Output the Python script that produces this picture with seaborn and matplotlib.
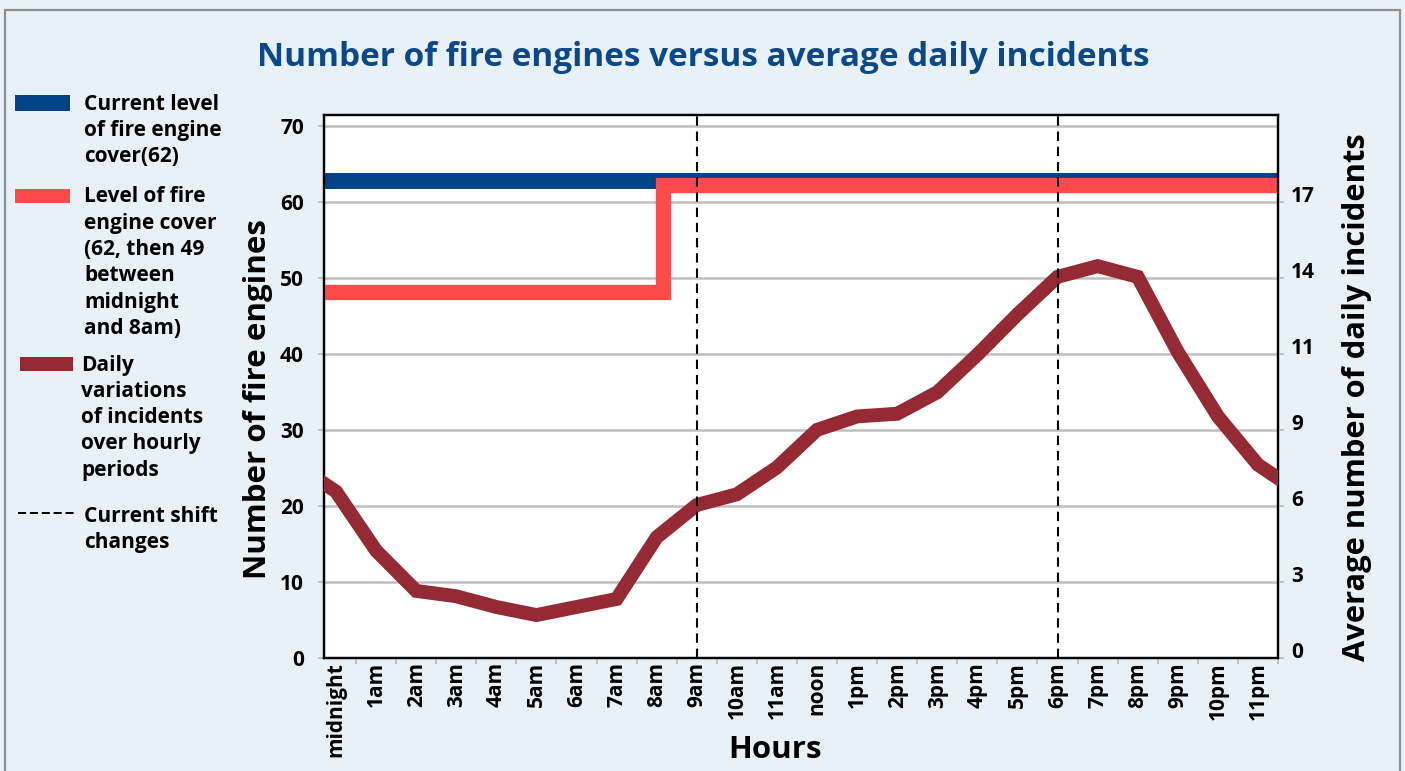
import numpy as np
import pandas as pd
import matplotlib
matplotlib.use("Agg")
import matplotlib.pyplot as plt
import seaborn as sns
from matplotlib.patches import Rectangle
from matplotlib.lines import Line2D

# ---------------- data ----------------
hour_labels = ["midnight", "1am", "2am", "3am", "4am", "5am", "6am", "7am",
               "8am", "9am", "10am", "11am", "noon", "1pm", "2pm", "3pm",
               "4pm", "5pm", "6pm", "7pm", "8pm", "9pm", "10pm", "11pm"]
# average number of daily incidents per hourly period (right axis units)
incidents = [6.2, 4.0, 2.5, 2.3, 1.9, 1.6, 1.9, 2.2, 4.5, 5.7, 6.1, 7.1,
             8.5, 9.0, 9.1, 9.9, 11.3, 12.8, 14.2, 14.6, 14.2, 11.4, 9.0, 7.2]
current_cover = 62.7                 # current level of fire engine cover
reduced_cover = [48.1, 62.2]         # level before / after the change
cover_change_hour = 8.15             # 8am
shift_change_hours = [9, 18]         # 9am and 6pm
left_ticks = [0, 10, 20, 30, 40, 50, 60, 70]
right_tick_labels = ["0", "3", "6", "9", "11", "14", "17"]
incidents_per_engine = 17 / 60       # right axis scale relative to left axis

# ---------------- style ----------------
BG = "#e8f1f8"
BLUE = "#004387"
RED = "#ff4a4a"
MAROON = "#952a34"
TITLE = "#0b4889"
GRID = "#bfbfbf"

sns.set_theme(style="white")
plt.rcParams["font.family"] = ["Open Sans", "DejaVu Sans"]
plt.rcParams["font.weight"] = "bold"

W, H = 1405, 771
fig = plt.figure(figsize=(W / 100, H / 100), dpi=100, facecolor=BG)


def fx(px):
    return px / W


def fy(py):
    return 1 - py / H


# outer gray border
fig.patches.append(Rectangle((fx(5), -0.02), fx(1400) - fx(5), fy(10) + 0.02,
                             transform=fig.transFigure, fill=False,
                             edgecolor="#8f8f8f", lw=1.6))

ax = fig.add_axes([fx(324), fy(658), fx(1278) - fx(324), fy(115) - fy(658)])
ax.set_facecolor("white")
XL, XR = -0.3, 23.5
YTOP = 71.4
ax.set_xlim(XL, XR)
ax.set_ylim(0, YTOP)

# horizontal grid
ax.set_yticks(left_ticks)
ax.yaxis.grid(True, color=GRID, lw=1.8)
ax.xaxis.grid(False)
ax.set_axisbelow(True)

# fire engine cover lines
cov_df = pd.DataFrame({"x": [XL, XR], "y": [current_cover, current_cover]})
sns.lineplot(data=cov_df, x="x", y="y", ax=ax, color=BLUE, lw=11.5,
             solid_capstyle="butt", zorder=3)
red_df = pd.DataFrame({"x": [XL, cover_change_hour, XR],
                       "y": [reduced_cover[0], reduced_cover[1], reduced_cover[1]]})
sns.lineplot(data=red_df, x="x", y="y", ax=ax, color=RED, lw=11.0,
             drawstyle="steps-post", solid_capstyle="butt",
             solid_joinstyle="miter", zorder=4)

# incidents on right axis
ax2 = ax.twinx()
ax2.set_ylim(0, YTOP * incidents_per_engine)
hours = np.arange(len(incidents))
inc_x = np.r_[hours[-1] - len(hours), hours, hours[0] + len(hours)]
inc_y = np.r_[incidents[-1], incidents, incidents[0]]
inc_df = pd.DataFrame({"hour": inc_x, "incidents": inc_y})
sns.lineplot(data=inc_df, x="hour", y="incidents", ax=ax2, color=MAROON,
             lw=10, solid_joinstyle="miter", solid_capstyle="butt", zorder=3)
ax2.set_xlim(XL, XR)

for h in shift_change_hours:
    ax2.axvline(h, color="black", lw=1.5, linestyle=(0, (4.5, 2.8)), zorder=5)

# spines
for a in (ax, ax2):
    for s in a.spines.values():
        s.set_color("black")
        s.set_linewidth(1.6)
        s.set_visible(True)

TICK_FS = 15
# x ticks: marks at boundaries, labels at centers
ax.set_xticks(np.arange(0.5, 24, 1))
ax.set_xticklabels([])
ax.set_xticks(hours, minor=True)
ax.set_xticklabels(hour_labels, minor=True, rotation=90, fontsize=TICK_FS,
                   fontweight="bold", va="top", ha="center")
ax.tick_params(axis="x", which="major", length=4.3, width=1.4, color=GRID,
               direction="out", bottom=True)
ax.tick_params(axis="x", which="minor", length=0, pad=3, bottom=True,
               labelcolor="black")

ax.set_yticklabels([str(t) for t in left_ticks], fontsize=TICK_FS,
                   fontweight="bold")
ax.tick_params(axis="y", length=4, width=1.4, color=GRID, direction="out",
               pad=10.5, left=True, labelcolor="black")

ax2.set_yticks([t * incidents_per_engine for t in left_ticks[:-1]])
ax2.set_yticklabels(right_tick_labels, fontsize=TICK_FS, fontweight="bold",
                    va="baseline")
ax2.tick_params(axis="y", length=4, width=1.4, color=GRID, direction="out",
                pad=5.5, right=True, labelcolor="black")
ax2.set_xlabel("")

# axis labels
LAB_FS = 22.5
ax.set_ylabel("Number of fire engines", fontsize=LAB_FS, fontweight="bold",
              color="black", va="center")
ax.yaxis.set_label_coords((258 - 324) / 954, (658 - 399) / 543)
ax2.set_ylabel("Average number of daily incidents", fontsize=22.2,
               fontweight="bold", color="black", rotation=90, va="center")
ax2.yaxis.set_label_coords((1357 - 324) / 954, (658 - 397) / 543)
ax.set_xlabel("Hours", fontsize=LAB_FS, fontweight="bold", color="black",
              va="center")
ax.xaxis.set_label_coords((775 - 324) / 954, (658 - 750) / 543)

# title
fig.text(fx(703), fy(57), "Number of fire engines versus average daily incidents",
         ha="center", va="center", fontsize=24, fontweight="bold",
         color=TITLE)

# ---------------- custom legend ----------------
leg_font = 15
pitch = 26.3


def legend_text(x, y0, lines):
    for i, line in enumerate(lines):
        fig.text(fx(x), fy(y0 + i * pitch), line, ha="left", va="center",
                 fontsize=leg_font, fontweight="bold", color="black")


fig.patches.append(Rectangle((fx(15), fy(111)), fx(70) - fx(15), fy(95) - fy(111),
                             transform=fig.transFigure, color=BLUE, lw=0))
legend_text(84, 104, ["Current level", "of fire engine", "cover(62)"])

fig.patches.append(Rectangle((fx(15), fy(203)), fx(70) - fx(15), fy(189) - fy(203),
                             transform=fig.transFigure, color=RED, lw=0))
legend_text(84, 197, ["Level of fire", "engine cover", "(62, then 49",
                      "between", "midnight", "and 8am)"])

fig.patches.append(Rectangle((fx(20), fy(371)), fx(73) - fx(20), fy(357) - fy(371),
                             transform=fig.transFigure, color=MAROON, lw=0))
legend_text(81, 365, ["Daily", "variations", "of incidents", "over hourly",
                      "periods"])

fig.lines.append(Line2D([fx(18), fx(74)], [fy(513), fy(513)],
                        transform=fig.transFigure, color="black", lw=1.45,
                        linestyle=(0, (4.0, 1.9))))
legend_text(84, 516, ["Current shift", "changes"])

fig.savefig("out.png", dpi=100, facecolor=BG)
